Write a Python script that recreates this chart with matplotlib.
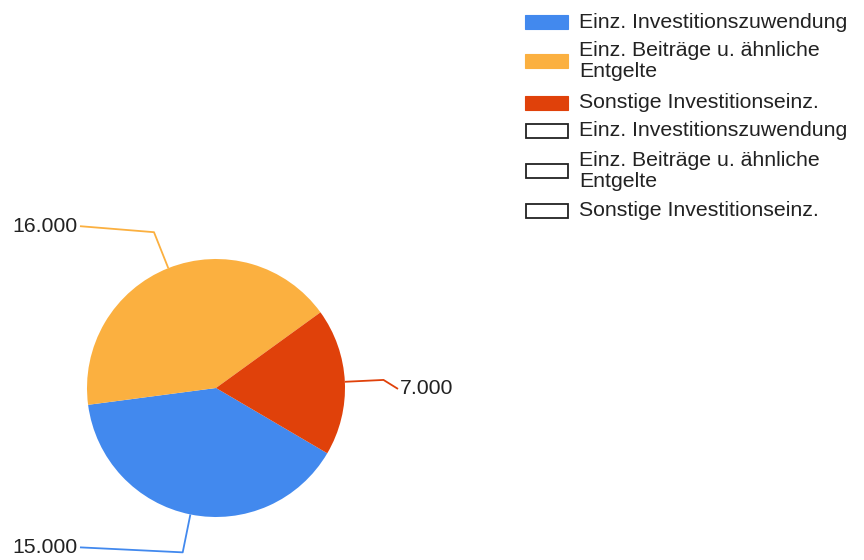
import numpy as np
import matplotlib
matplotlib.use("Agg")
import matplotlib.pyplot as plt
from matplotlib.patches import Rectangle

# data
labels = ["Einz. Investitionszuwendung", "Einz. Beiträge u. ähnliche\nEntgelte",
          "Sonstige Investitionseinz."]
values = [15000, 16000, 7000]
colors = ["#4289EE", "#FBB040", "#E0410A"]

W, H = 864, 560
plt.rcParams["font.family"] = ["Liberation Sans", "DejaVu Sans"]
FS = 15.3

fig = plt.figure(figsize=(W / 100, H / 100), dpi=100)
ax = fig.add_axes([0, 0, 1, 1])

cx, cy, R = 216, H - 388, 129
start = -30.4
wedges, _ = ax.pie(values, colors=colors, startangle=start, counterclock=False,
                   center=(cx, cy), radius=R, frame=True)
ax.set_xlim(0, W)
ax.set_ylim(0, H)
ax.set_aspect("equal")
ax.axis("off")

# leader lines + value labels
# (label text anchor x, y offset from elbow, side)
label_pos = [(77, 5, "left"), (77, 6, "left"), (400, -9, "right")]
for w, v, c, (lx, dy, side) in zip(wedges, values, colors, label_pos):
    mid = np.deg2rad((w.theta1 + w.theta2) / 2)
    p0 = (cx + R * np.cos(mid), cy + R * np.sin(mid))
    p1 = (cx + 1.3 * R * np.cos(mid), cy + 1.3 * R * np.sin(mid))
    p2 = (lx + (3 if side == "left" else -2), p1[1] + dy)
    ax.plot([p0[0], p1[0], p2[0]], [p0[1], p1[1], p2[1]], color=c, lw=1.3,
            solid_capstyle="butt")
    txt = f"{v:,}".replace(",", ".")
    ha = "right" if side == "left" else "left"
    ax.text(lx, p2[1], txt, ha=ha, va="center", fontsize=FS, color="#222222")

# legend (filled entries, then empty duplicates)
rows_y = [22, 61, 103, 131, 171, 211]
entries = [(l, c) for l, c in zip(labels, colors)] + [(l, None) for l in labels]
for (lab, c), y in zip(entries, rows_y):
    yy = H - y
    if c is not None:
        rect = Rectangle((525, yy - 7), 43, 14, facecolor=c, edgecolor=c, lw=0.8)
    else:
        rect = Rectangle((525.5, yy - 7), 42, 14, facecolor="white",
                         edgecolor="#222222", lw=1.3)
    ax.add_patch(rect)
    ax.text(579, yy, lab, ha="left", va="center", fontsize=FS,
            linespacing=1.12, color="#222222")

fig.savefig("out.png", dpi=100)
